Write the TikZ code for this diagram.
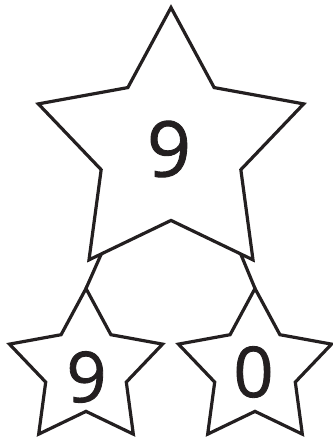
\documentclass[tikz,border=0pt]{standalone}
\usepackage{fontspec}
\setmainfont{Open Sans}
\newfontfamily\digitfont{Open Sans}[FakeBold=1.2]
\usetikzlibrary{shapes.geometric, calc}
\definecolor{ink}{HTML}{231F20}

\begin{document}
\begin{tikzpicture}[x=1pt, y=1pt,
    starbox/.style={star, star points=5, star point ratio=1.9, draw=ink,
                    line width=3.2pt, inner sep=0pt, outer sep=0pt},
    bigstar/.style={starbox, minimum size=279pt},
    smallstar/.style={starbox, minimum size=161pt},
    digit/.style={text=ink, inner sep=0pt},
    link/.style={draw=ink, line width=3.2pt}]
  \useasboundingbox (0,0) rectangle (332,439);

  % Stars
  \node[bigstar] (top) at (171,292) {};
  \node[smallstar] (left) at (86,70) {};
  \node[smallstar] (right) at (255,70) {};

  % Numbers
  \node[digit, font=\digitfont\fontsize{77}{80}\selectfont] (topnum) at (169,290) {9};
  \node[digit, font=\digitfont\fontsize{70}{72}\selectfont] (leftnum) at (86.5,62) {9};
  \node[digit, font=\digitfont\fontsize{70}{72}\selectfont] (rightnum) at (253.5,67) {0};

  % Branches
  \coordinate (lfoot) at ($(top.outer point 3)!0.15!(top.inner point 3)$);
  \coordinate (rfoot) at ($(top.outer point 4)!0.15!(top.inner point 3)$);
  \draw[link] (lfoot) -- (left.outer point 1);
  \draw[link] (rfoot) -- (right.outer point 1);
\end{tikzpicture}
\end{document}
